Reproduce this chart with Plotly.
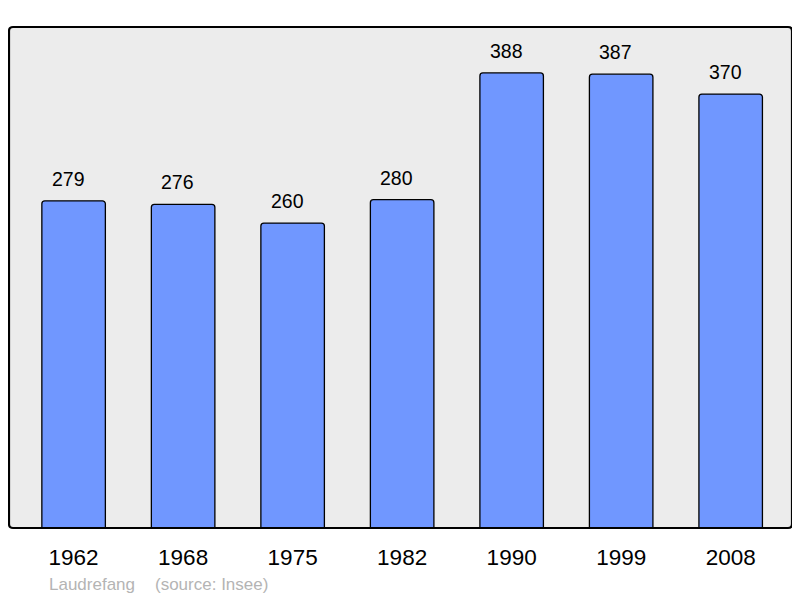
import plotly.graph_objects as go

years = ["1962", "1968", "1975", "1982", "1990", "1999", "2008"]
population = [279, 276, 260, 280, 388, 387, 370]
commune = "Laudrefang"
source = "(source: Insee)"

# page body has an 8px margin; figure placed at (8, 8)
W, H = 786, 590
ml, mr, mt, mb = 1, 2, 19, 70
pw, ph = W - ml - mr, H - mt - mb
FONT = "Liberation Sans, Arial"

fig = go.Figure()
fig.add_trace(go.Bar(
    x=list(range(len(years))), y=population,
    width=0.58,
    marker=dict(color="#7097ff", line=dict(color="#000000", width=1.3), cornerradius=3),
    hoverinfo="skip",
))

for i, v in enumerate(population):
    fig.add_annotation(x=i, y=v, text=str(v), showarrow=False, yanchor="bottom",
                       yshift=9, xshift=-5.5,
                       font=dict(family=FONT, size=19.5, color="#000000"))

# rounded border around plot area
rx, ry = 4 / pw, 4 / ph
path = (f"M {rx},0 L {1-rx},0 Q 1,0 1,{ry} L 1,{1-ry} Q 1,1 {1-rx},1 "
        f"L {rx},1 Q 0,1 0,{1-ry} L 0,{ry} Q 0,0 {rx},0 Z")
fig.add_shape(type="path", path=path, xref="paper", yref="paper",
              line=dict(color="#000000", width=2.2), layer="above")

fy = (528 - 584) / ph
fig.add_annotation(x=(47 - 9) / pw, y=fy, xref="paper", yref="paper",
                   text=commune, showarrow=False, xanchor="left", yanchor="middle",
                   font=dict(family=FONT, size=17, color="#b4b4b4"))
fig.add_annotation(x=(153 - 9) / pw, y=fy, xref="paper", yref="paper",
                   text=source, showarrow=False, xanchor="left", yanchor="middle",
                   font=dict(family=FONT, size=17, color="#b4b4b4"))

fig.update_layout(
    width=W, height=H,
    margin=dict(l=ml, r=mr, t=mt, b=mb),
    paper_bgcolor="#ffffff", plot_bgcolor="#ececec",
    showlegend=False,
    xaxis=dict(range=[-0.59, 6.56], tickmode="array", tickvals=list(range(len(years))),
               ticktext=years, showgrid=False, zeroline=False, ticks="outside",
               ticklen=9, tickcolor="rgba(0,0,0,0)",
               tickfont=dict(family=FONT, size=22.5, color="#000000"),
               fixedrange=True),
    yaxis=dict(range=[0, 427.2], showgrid=False, zeroline=False, showticklabels=False,
               fixedrange=True),
)

fig.write_html("out.html", config={"displayModeBar": False})
